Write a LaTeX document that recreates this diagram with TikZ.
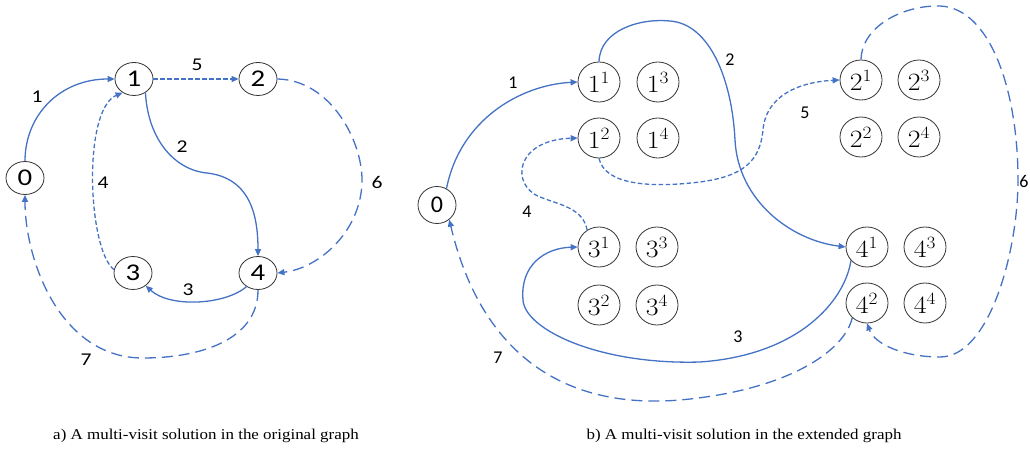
\documentclass[tikz,border=0pt]{standalone}
\usepackage{fontspec}
\setmainfont{Carlito}
\newfontfamily\capfont{Liberation Serif}
\usetikzlibrary{arrows.meta,shapes.geometric}
\definecolor{eblue}{HTML}{4472C4}
\definecolor{ngray}{HTML}{333333}
\newcommand{\wx}[1]{\scalebox{1.2}[1]{#1}}
\newcommand{\sx}[1]{\scalebox{1.12}[1]{$#1$}}
\tikzset{
  vnode/.style={ellipse,draw=ngray,line width=0.8pt,minimum width=38pt,minimum height=33pt,inner sep=0pt,font=\fontsize{24}{26}\selectfont},
  rnode/.style={ellipse,draw=ngray,line width=0.8pt,minimum width=38pt,minimum height=37pt,inner sep=0pt,font=\fontsize{24}{26}\selectfont},
  snode/.style={ellipse,draw=ngray,line width=0.8pt,minimum width=42pt,minimum height=40pt,inner sep=0pt,font=\fontsize{25}{27}\selectfont},
  conn/.style={draw=eblue,line width=1.3pt,-{Triangle[length=7pt,width=6pt]}},
  sdash/.style={conn,dash pattern=on 4.5pt off 2.5pt},
  ldash/.style={conn,dash pattern=on 11pt off 6pt},
  elab/.style={font=\fontsize{18}{20}\selectfont,inner sep=0pt},
  captext/.style={font=\capfont\fontsize{15}{17}\selectfont,inner sep=0pt}
}
\begin{document}
\begin{tikzpicture}[x=1pt,y=-1pt]
\useasboundingbox (0,0) rectangle (1030,449);
% ---------- left graph ----------
\node[vnode] (a0) at (25,178) {\wx{0}};
\node[vnode] (a1) at (134,79) {\wx{1}};
\node[vnode] (a2) at (258,79) {\wx{2}};
\node[vnode] (a3) at (133,273) {\wx{3}};
\node[vnode] (a4) at (258,273) {\wx{4}};
\draw[conn] (a0.north) .. controls (25,115) and (60,79) .. (a1.west);
\draw[sdash] (a1.east) -- (a2.west);
\draw[conn] (a1.-50) .. controls (148,140) and (175,170) .. (207,173) .. controls (250,178) and (258,215) .. (a4.north);
\draw[ldash] (a2.east) .. controls (330,80) and (362,140) .. (362,180) .. controls (362,230) and (320,268) .. (a4.east);
\draw[conn] (a4.-130) .. controls (225,305) and (170,308) .. (a3.-45);
\draw[sdash] (a3.170) .. controls (88,250) and (82,110) .. (a1.-130);
\draw[ldash] (a4.south) .. controls (258,340) and (200,358) .. (143,358) .. controls (60,358) and (25,260) .. (a0.south);
\node[elab] (la1) at (37,97) {\wx{1}};
\node[elab] (la5) at (197,65) {\wx{5}};
\node[elab] (la2) at (182,147) {\wx{2}};
\node[elab] (la4) at (103,183) {\wx{4}};
\node[elab] (la6) at (377,182) {\wx{6}};
\node[elab] (la3) at (188,290) {\wx{3}};
\node[elab] (la7) at (86,360) {\wx{7}};
% ---------- right graph ----------
\node[rnode] (b0) at (437,205) {0};
\node[snode] (b11) at (599,82) {\sx{1^{1}}};
\node[snode] (b13) at (658,82) {\sx{1^{3}}};
\node[snode] (b12) at (599,138) {\sx{1^{2}}};
\node[snode] (b14) at (658,138) {\sx{1^{4}}};
\node[snode] (b31) at (599,247) {\sx{3^{1}}};
\node[snode] (b33) at (657,247) {\sx{3^{3}}};
\node[snode] (b32) at (599,305) {\sx{3^{2}}};
\node[snode] (b34) at (657,305) {\sx{3^{4}}};
\node[snode] (b21) at (861,80) {\sx{2^{1}}};
\node[snode] (b23) at (919,80) {\sx{2^{3}}};
\node[snode] (b22) at (861,137) {\sx{2^{2}}};
\node[snode] (b24) at (919,137) {\sx{2^{4}}};
\node[snode] (b41) at (867,247) {\sx{4^{1}}};
\node[snode] (b43) at (925,247) {\sx{4^{3}}};
\node[snode] (b42) at (867,303) {\sx{4^{2}}};
\node[snode] (b44) at (925,303) {\sx{4^{4}}};
\draw[conn] (b0.60) .. controls (460,120) and (520,85) .. (b11.west);
\draw[conn] (b11.north) .. controls (600,30) and (640,18) .. (670,21) .. controls (710,24) and (732,80) .. (735,140) .. controls (738,200) and (790,240) .. (b41.west);
\draw[sdash] (b12.south) .. controls (605,185) and (650,188) .. (700,182) .. controls (745,176) and (760,160) .. (763,130) .. controls (766,95) and (800,82) .. (b21.west);
\draw[sdash] (b31.125) .. controls (583,208) and (560,205) .. (540,197) .. controls (510,185) and (515,140) .. (b12.west);
\draw[conn] (b41.-140) .. controls (845,300) and (800,355) .. (700,362) .. controls (600,365) and (525,330) .. (523,300) .. controls (520,265) and (545,248) .. (b31.west);
\draw[ldash] (b42.-135) .. controls (845,350) and (790,390) .. (680,400) .. controls (560,410) and (480,350) .. (b0.-50);
\draw[ldash] (b21.north) .. controls (862,25) and (905,5) .. (940,6) .. controls (990,8) and (1018,90) .. (1018,180) .. controls (1018,250) and (990,357) .. (940,357) .. controls (905,357) and (875,345) .. (b42.south);
\node[elab] (lb1) at (513,83) {1};
\node[elab] (lb2) at (730,60) {2};
\node[elab] (lb5) at (805,113) {5};
\node[elab] (lb4) at (527,212) {4};
\node[elab] (lb3) at (738,337) {3};
\node[elab] (lb7) at (498,358) {7};
\node[elab] (lb6) at (1024,181) {6};
% ---------- captions ----------
\node[captext] (capa) at (206,436) {\scalebox{1.13}[1]{a) A multi-visit solution in the original graph}};
\node[captext] (capb) at (744,436) {\scalebox{1.13}[1]{b) A multi-visit solution in the extended graph}};
\end{tikzpicture}
\end{document}
